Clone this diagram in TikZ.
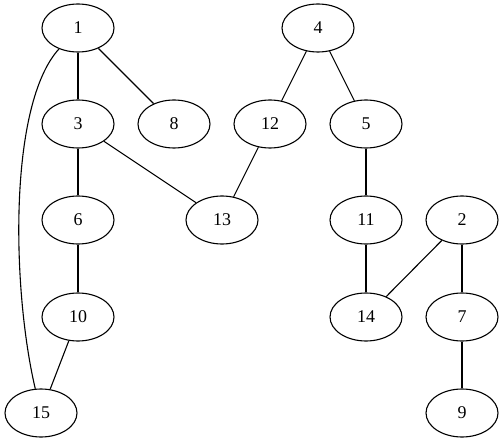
\documentclass[tikz,border=0pt]{standalone}
\usepackage{fontspec}
\setmainfont{Liberation Serif}
\usetikzlibrary{shapes.geometric}

\begin{document}
\begin{tikzpicture}[x=1bp,y=-1bp,
  vertex/.style={draw,ellipse,minimum width=72bp,minimum height=48bp,inner sep=0pt,font=\fontsize{18}{20}\selectfont},
  every path/.style={line width=1.1bp}]
\useasboundingbox (0,0) rectangle (504,443);
% rows
\def\ra{28}
\def\rb{124}
\def\rc{220}
\def\rd{317}
\def\re{413}
\node[vertex] (n1) at (78,\ra) {1};
\node[vertex] (n4) at (318,\ra) {4};
\node[vertex] (n3) at (78,\rb) {3};
\node[vertex] (n8) at (174,\rb) {8};
\node[vertex] (n12) at (270,\rb) {12};
\node[vertex] (n5) at (366,\rb) {5};
\node[vertex] (n6) at (78,\rc) {6};
\node[vertex] (n13) at (222,\rc) {13};
\node[vertex] (n11) at (366,\rc) {11};
\node[vertex] (n2) at (462,\rc) {2};
\node[vertex] (n10) at (78,\rd) {10};
\node[vertex] (n14) at (366,\rd) {14};
\node[vertex] (n7) at (462,\rd) {7};
\node[vertex] (n15) at (41,\re) {15};
\node[vertex] (n9) at (462,\re) {9};
% edges
\draw (n1) .. controls (8,105) and (12,290) .. (n15);
\draw (n1) -- (n3);
\draw (n1) -- (n8);
\draw (n3) -- (n6);
\draw (n3) -- (n13);
\draw (n6) -- (n10);
\draw (n10) -- (n15);
\draw (n4) -- (n12);
\draw (n4) -- (n5);
\draw (n12) -- (n13);
\draw (n5) -- (n11);
\draw (n11) -- (n14);
\draw (n2) -- (n14);
\draw (n2) -- (n7);
\draw (n7) -- (n9);
\end{tikzpicture}
\end{document}
